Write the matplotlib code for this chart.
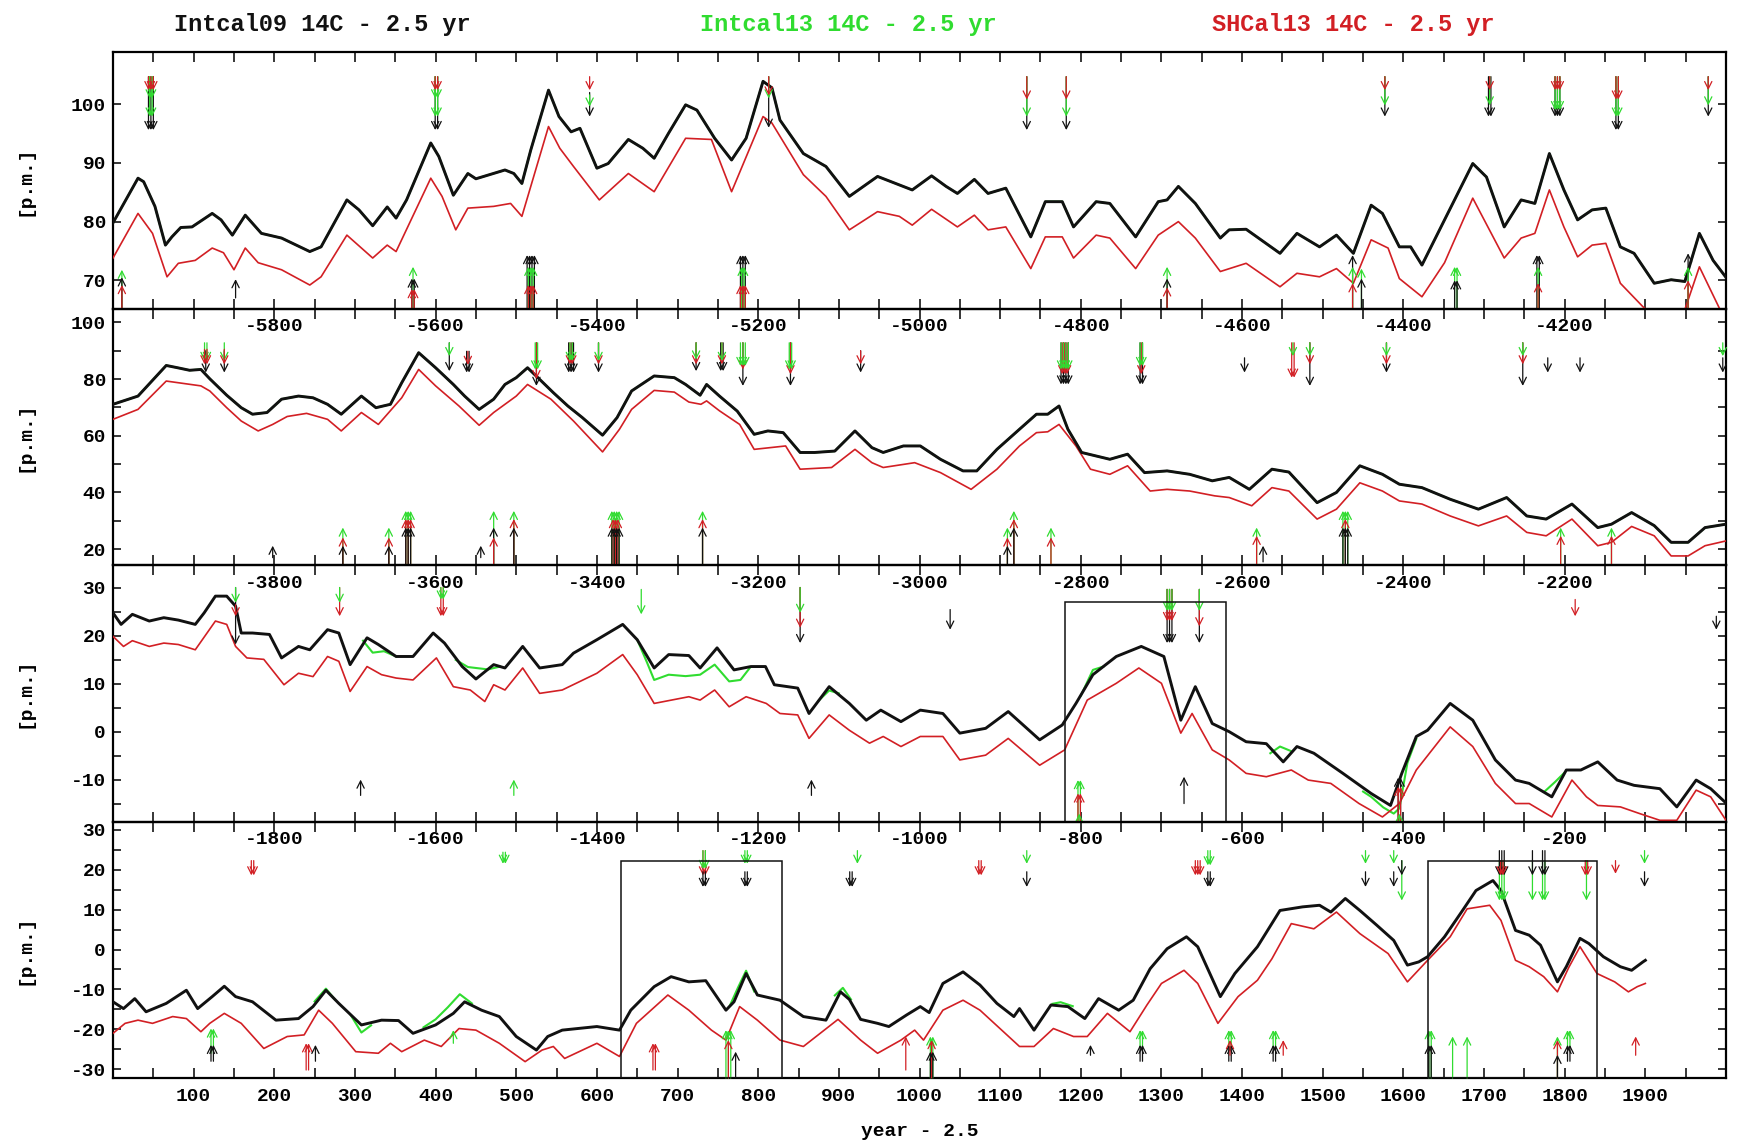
import matplotlib
matplotlib.use("Agg")
import matplotlib.pyplot as plt
from matplotlib.ticker import FixedLocator, MultipleLocator, NullFormatter
from matplotlib.patches import Rectangle

plt.rcParams['font.family'] = ['Liberation Mono', 'DejaVu Sans Mono']
plt.rcParams['font.weight'] = 'bold'
plt.rcParams['axes.unicode_minus'] = False

BLACK = '#111111'
GREEN = '#30dc30'
RED = '#d21f24'
COL = {'k': BLACK, 'g': GREEN, 'r': RED}

# ---------------- panel 1 : -6000 .. -4000 ----------------
yr1_k = [-6000, -5969, -5962, -5948, -5935, -5927, -5916, -5902, -5877, -5866, -5852, -5836, -5816,
         -5791, -5756, -5742, -5710, -5695, -5678, -5660, -5649, -5636, -5606, -5596, -5578, -5560,
         -5550, -5514, -5503, -5493, -5482, -5460, -5447, -5432, -5421, -5400, -5386, -5361, -5343,
         -5329, -5311, -5290, -5276, -5254, -5233, -5215, -5194, -5183, -5173, -5144, -5116, -5087,
         -5052, -5009, -4985, -4967, -4953, -4932, -4915, -4893, -4862, -4844, -4823, -4809, -4781,
         -4764, -4732, -4704, -4693, -4679, -4658, -4627, -4616, -4595, -4553, -4532, -4504, -4483,
         -4462, -4440, -4426, -4405, -4391, -4377, -4349, -4314, -4297, -4275, -4254, -4237, -4219,
         -4201, -4184, -4166, -4149, -4131, -4114, -4089, -4068, -4051, -4033, -4016, -4000]
k1 = [79.8, 87.4, 86.8, 82.6, 76.0, 77.4, 79.0, 79.1, 81.4, 80.3, 77.7, 81.1, 78.0,
      77.2, 74.9, 75.7, 83.7, 82.0, 79.3, 82.5, 80.6, 83.7, 93.4, 91.1, 84.5, 88.2,
      87.3, 88.8, 88.2, 86.5, 92.2, 102.4, 97.9, 95.3, 95.9, 89.1, 89.9, 94.0, 92.5,
      90.8, 95.1, 99.9, 99.0, 94.2, 90.5, 94.2, 103.9, 102.8, 97.3, 91.6, 89.4, 84.3,
      87.7, 85.4, 87.8, 86.0, 84.8, 87.2, 84.8, 85.7, 77.4, 83.4, 83.4, 79.1, 83.4,
      83.1, 77.4, 83.4, 83.7, 86.0, 83.1, 77.2, 78.6, 78.7, 74.6, 78.0, 75.7, 77.7,
      74.6, 82.8, 81.4, 75.7, 75.7, 72.6, 80.3, 89.9, 87.6, 79.1, 83.7, 83.1, 91.6,
      85.4, 80.3, 82.0, 82.3, 75.7, 74.6, 69.5, 70.1, 69.8, 78.0, 73.4, 70.5]
yr1_r = [-6000, -5969, -5951, -5933, -5919, -5898, -5877, -5863, -5850, -5836, -5820, -5791, -5756,
         -5742, -5710, -5678, -5660, -5649, -5606, -5592, -5575, -5560, -5528, -5507, -5493, -5460,
         -5446, -5429, -5397, -5361, -5329, -5290, -5258, -5233, -5194, -5183, -5144, -5116, -5087,
         -5052, -5025, -5009, -4985, -4953, -4932, -4915, -4893, -4862, -4844, -4823, -4809, -4781,
         -4764, -4732, -4704, -4679, -4658, -4627, -4595, -4553, -4532, -4504, -4483, -4462, -4440,
         -4419, -4405, -4377, -4349, -4314, -4275, -4254, -4237, -4219, -4201, -4184, -4166, -4149,
         -4131, -4103, -4082, -4054, -4033, -4001]
r1 = [73.8, 81.4, 78.0, 70.6, 72.9, 73.4, 75.5, 74.7, 71.8, 75.5, 73.0, 71.8, 69.2,
      70.6, 77.7, 73.8, 76.0, 74.9, 87.4, 84.3, 78.6, 82.3, 82.6, 83.1, 80.9, 96.2,
      92.5, 89.4, 83.7, 88.2, 85.1, 94.2, 94.0, 85.1, 97.9, 96.8, 88.0, 84.3, 78.6,
      81.7, 80.9, 79.4, 82.1, 79.1, 81.1, 78.6, 79.1, 72.0, 77.4, 77.4, 73.8, 77.7,
      77.2, 72.0, 77.7, 80.0, 77.2, 71.5, 72.9, 68.9, 71.2, 70.6, 72.0, 69.5, 76.9,
      75.5, 70.3, 67.2, 73.0, 84.0, 73.8, 77.2, 78.0, 85.4, 79.1, 74.0, 76.0, 76.3,
      69.5, 65.5, 63.2, 63.8, 72.3, 63.2]

# event arrows: (year, colour, tail, head, count)
arr1 = [(-5953, 'k', 104.7, 95.6, 3), (-5953, 'g', 104.7, 97.9, 2), (-5953, 'g', 104.7, 101.0, 2),
        (-5953, 'r', 104.7, 102.4, 3),
        (-5599, 'k', 104.7, 95.6, 2), (-5599, 'g', 104.7, 97.9, 2), (-5599, 'g', 104.7, 101.0, 2),
        (-5599, 'r', 104.7, 102.4, 2),
        (-5409, 'k', 102.0, 97.9, 1), (-5409, 'g', 101.6, 99.6, 1), (-5409, 'r', 104.7, 102.4, 1),
        (-5187, 'k', 104.7, 96.0, 1), (-5187, 'g', 104.7, 101.0, 1), (-5187, 'r', 104.7, 101.5, 1),
        (-4867, 'k', 104.7, 95.6, 1), (-4867, 'g', 104.7, 97.9, 1), (-4867, 'r', 104.7, 100.8, 1),
        (-4818, 'k', 104.7, 95.6, 1), (-4818, 'g', 104.7, 97.9, 1), (-4818, 'r', 104.7, 100.8, 1),
        (-4423, 'k', 104.7, 97.9, 1), (-4423, 'g', 104.7, 99.8, 1), (-4423, 'r', 104.7, 102.4, 1),
        (-4293, 'k', 104.7, 97.9, 2), (-4293, 'g', 104.7, 99.8, 1), (-4293, 'r', 104.7, 102.4, 1),
        (-4209, 'k', 104.7, 97.9, 3), (-4209, 'g', 104.7, 99.0, 3), (-4209, 'r', 104.7, 102.4, 3),
        (-4135, 'k', 104.7, 95.6, 2), (-4135, 'g', 104.7, 97.9, 2), (-4135, 'r', 104.7, 100.8, 2),
        (-4022, 'k', 104.7, 97.9, 1), (-4022, 'g', 104.7, 99.8, 1), (-4022, 'r', 104.7, 102.4, 1),
        (-5989, 'k', 65.2, 70.5, 1), (-5989, 'g', 65.2, 71.8, 1), (-5989, 'r', 65.2, 69.2, 1),
        (-5848, 'k', 67.0, 70.2, 1),
        (-5628, 'g', 65.2, 72.3, 1), (-5628, 'k', 65.2, 70.3, 2), (-5628, 'r', 65.2, 68.5, 2),
        (-5482, 'k', 65.2, 74.3, 4), (-5482, 'g', 65.2, 72.3, 3), (-5482, 'r', 65.2, 69.2, 3),
        (-5219, 'k', 65.2, 74.3, 3), (-5219, 'g', 65.2, 72.3, 2), (-5219, 'r', 65.2, 69.2, 3),
        (-4693, 'g', 65.2, 72.3, 1), (-4693, 'k', 65.2, 70.3, 1), (-4693, 'r', 65.2, 68.8, 1),
        (-4463, 'k', 65.2, 74.3, 1), (-4463, 'g', 65.2, 72.3, 1), (-4463, 'r', 65.2, 69.5, 1),
        (-4452, 'k', 65.2, 70.3, 1), (-4452, 'g', 65.2, 72.0, 1),
        (-4335, 'g', 65.2, 72.3, 2), (-4335, 'k', 65.2, 70.0, 2),
        (-4233, 'k', 65.2, 74.3, 2), (-4233, 'g', 65.2, 72.3, 1), (-4233, 'r', 65.2, 69.5, 1),
        (-4047, 'k', 65.2, 74.6, 1), (-4047, 'g', 65.2, 72.3, 1), (-4047, 'r', 65.2, 70.0, 1)]

# ---------------- panel 2 : -4000 .. -2000 ----------------
yr2_k = [-4000, -3969, -3934, -3920, -3905, -3891, -3880, -3859, -3841, -3827, -3809, -3791, -3770,
         -3752, -3734, -3717, -3692, -3674, -3656, -3642, -3621, -3600, -3578, -3564, -3546, -3528,
         -3514, -3500, -3486, -3471, -3454, -3436, -3418, -3393, -3375, -3357, -3329, -3304, -3290,
         -3272, -3264, -3248, -3226, -3205, -3188, -3169, -3148, -3130, -3105, -3080, -3059, -3045,
         -3020, -2999, -2974, -2946, -2929, -2904, -2876, -2855, -2841, -2827, -2816, -2799, -2764,
         -2742, -2721, -2693, -2665, -2637, -2616, -2591, -2563, -2542, -2507, -2483, -2454, -2426,
         -2405, -2377, -2342, -2307, -2272, -2247, -2223, -2191, -2159, -2142, -2117, -2089, -2068,
         -2047, -2026, -2000]
k2 = [71.1, 74.0, 84.8, 84.0, 83.1, 83.4, 80.1, 74.3, 69.9, 67.6, 68.2, 72.9, 74.0,
      73.4, 71.1, 67.6, 74.0, 69.9, 71.1, 78.7, 89.3, 84.0, 78.1, 74.0, 69.3, 72.9,
      78.1, 80.5, 84.0, 79.9, 75.2, 70.5, 66.4, 60.2, 66.4, 75.8, 81.1, 80.5, 78.1,
      74.3, 78.1, 74.0, 68.7, 60.5, 61.7, 61.1, 54.1, 54.1, 54.6, 61.7, 55.8, 54.1,
      56.4, 56.4, 51.7, 47.6, 47.6, 55.2, 62.3, 67.6, 67.6, 70.5, 62.3, 54.1, 51.7,
      53.5, 47.0, 47.6, 46.4, 44.1, 45.3, 41.1, 48.2, 47.2, 36.4, 40.0, 49.4, 46.4,
      42.9, 41.7, 37.6, 34.1, 38.2, 31.7, 30.6, 35.9, 27.6, 28.8, 32.9, 28.3, 22.4,
      22.4, 27.6, 28.8]
yr2_r = [-4000, -3969, -3934, -3891, -3880, -3859, -3841, -3820, -3802, -3784, -3760, -3734, -3717,
         -3692, -3671, -3642, -3621, -3600, -3571, -3546, -3528, -3500, -3486, -3457, -3429, -3393,
         -3372, -3357, -3329, -3304, -3286, -3271, -3264, -3248, -3223, -3205, -3166, -3148, -3109,
         -3080, -3059, -3045, -3006, -2974, -2936, -2904, -2876, -2855, -2841, -2827, -2806, -2788,
         -2764, -2742, -2714, -2693, -2665, -2634, -2616, -2588, -2563, -2542, -2507, -2483, -2454,
         -2426, -2405, -2377, -2342, -2307, -2272, -2247, -2223, -2191, -2159, -2142, -2117, -2089,
         -2068, -2047, -2026, -2000]
r2 = [65.8, 69.3, 79.3, 77.6, 75.8, 69.9, 65.2, 61.7, 64.0, 66.8, 67.9, 65.8, 61.7,
      68.2, 64.0, 73.4, 83.4, 77.6, 70.5, 63.7, 68.2, 74.0, 78.1, 72.9, 65.2, 54.3,
      62.3, 69.3, 76.0, 75.4, 71.9, 71.1, 72.3, 68.8, 64.0, 55.2, 56.4, 48.2, 48.8,
      55.2, 50.5, 48.8, 50.5, 47.0, 41.1, 48.2, 56.4, 61.1, 61.4, 64.0, 56.4, 48.2,
      46.4, 49.4, 40.5, 41.1, 40.5, 38.8, 38.2, 35.3, 41.7, 40.5, 30.6, 34.1, 43.4,
      40.5, 37.0, 35.9, 31.7, 28.2, 31.7, 25.9, 24.7, 30.6, 21.2, 22.4, 28.0, 24.7,
      17.6, 17.6, 21.2, 22.9]

arr2 = [(-3885, 'g', 92.8, 86.4, 2), (-3885, 'r', 90.5, 85.2, 2), (-3885, 'k', 90.0, 82.3, 1),
        (-3862, 'g', 92.8, 86.4, 1), (-3862, 'r', 90.5, 85.2, 1), (-3862, 'k', 90.0, 82.3, 1),
        (-3583, 'g', 92.8, 88.1, 1), (-3583, 'k', 92.8, 82.8, 1),
        (-3560, 'r', 89.8, 85.0, 1), (-3560, 'k', 89.8, 82.3, 2),
        (-3475, 'g', 92.8, 83.4, 2), (-3475, 'r', 92.8, 80.0, 1), (-3475, 'k', 92.8, 77.6, 1),
        (-3432, 'g', 92.8, 86.4, 2), (-3432, 'r', 92.8, 85.2, 2), (-3432, 'k', 92.8, 82.3, 3),
        (-3398, 'g', 92.8, 86.4, 1), (-3398, 'r', 92.8, 85.2, 1), (-3398, 'k', 92.8, 82.3, 1),
        (-3277, 'g', 92.8, 86.9, 1), (-3277, 'r', 92.8, 85.2, 1), (-3277, 'k', 92.8, 82.8, 1),
        (-3245, 'g', 92.8, 86.4, 1), (-3245, 'r', 92.8, 85.2, 1), (-3245, 'k', 92.8, 82.8, 2),
        (-3219, 'g', 92.8, 84.6, 3), (-3219, 'r', 92.8, 83.4, 1), (-3219, 'k', 92.8, 77.6, 1),
        (-3160, 'g', 92.8, 83.4, 2), (-3160, 'r', 92.8, 81.7, 1), (-3160, 'k', 92.8, 77.6, 1),
        (-3073, 'r', 90.0, 85.2, 1), (-3073, 'k', 90.0, 82.3, 1),
        (-2820, 'g', 92.8, 83.4, 4), (-2820, 'r', 92.8, 81.7, 3), (-2820, 'k', 92.8, 78.1, 4),
        (-2725, 'g', 92.8, 84.6, 2), (-2725, 'r', 92.8, 81.7, 1), (-2725, 'k', 92.8, 78.1, 2),
        (-2597, 'k', 87.5, 82.3, 1),
        (-2537, 'g', 92.8, 88.1, 1), (-2537, 'r', 92.8, 80.5, 2),
        (-2516, 'g', 92.8, 88.1, 1), (-2516, 'r', 92.8, 85.2, 1), (-2516, 'k', 92.8, 77.6, 1),
        (-2421, 'g', 92.8, 88.1, 1), (-2421, 'r', 92.8, 85.2, 1), (-2421, 'k', 92.8, 82.3, 1),
        (-2252, 'g', 92.8, 88.1, 1), (-2252, 'r', 92.8, 85.2, 1), (-2252, 'k', 92.8, 77.6, 1),
        (-2221, 'k', 87.5, 82.3, 1), (-2181, 'k', 87.5, 82.3, 1),
        (-2004, 'g', 92.8, 88.1, 1), (-2004, 'k', 87.5, 82.3, 1),
        (-3802, 'k', 17.0, 21.2, 1),
        (-3715, 'g', 14.4, 27.6, 1), (-3715, 'r', 14.4, 24.1, 1), (-3715, 'k', 14.4, 21.2, 1),
        (-3658, 'g', 14.4, 27.6, 1), (-3658, 'r', 14.4, 24.1, 1), (-3658, 'k', 14.4, 21.2, 1),
        (-3634, 'g', 14.4, 33.5, 3), (-3634, 'r', 14.4, 30.6, 3), (-3634, 'k', 14.4, 27.6, 3),
        (-3544, 'k', 17.0, 21.2, 1),
        (-3528, 'g', 14.4, 33.5, 1), (-3528, 'k', 14.4, 27.6, 1), (-3528, 'r', 14.4, 24.1, 1),
        (-3503, 'g', 14.4, 33.5, 1), (-3503, 'r', 14.4, 30.6, 1), (-3503, 'k', 14.4, 27.6, 1),
        (-3377, 'g', 14.4, 33.5, 4), (-3377, 'r', 14.4, 30.6, 3), (-3377, 'k', 14.4, 27.6, 4),
        (-3269, 'g', 14.4, 33.5, 1), (-3269, 'r', 14.4, 30.6, 1), (-3269, 'k', 14.4, 27.6, 1),
        (-2891, 'g', 14.4, 27.6, 1), (-2891, 'r', 14.4, 24.1, 1), (-2891, 'k', 14.4, 21.2, 1),
        (-2883, 'g', 14.4, 33.5, 1), (-2883, 'r', 14.4, 30.6, 1), (-2883, 'k', 14.4, 27.6, 1),
        (-2837, 'g', 14.4, 27.6, 1), (-2837, 'r', 14.4, 24.1, 1),
        (-2582, 'g', 14.4, 27.6, 1), (-2582, 'r', 14.4, 24.7, 1), (-2574, 'k', 15.5, 21.2, 1),
        (-2472, 'g', 14.4, 33.5, 3), (-2472, 'r', 14.4, 30.6, 1), (-2472, 'k', 14.4, 27.6, 3),
        (-2205, 'g', 14.4, 27.6, 1), (-2205, 'r', 14.4, 24.7, 1),
        (-2142, 'g', 14.4, 27.6, 1), (-2142, 'r', 14.4, 24.7, 1)]

# ---------------- panel 3 : -2000 .. 0 ----------------
yr3_k = [-2000, -1990, -1976, -1955, -1937, -1919, -1898, -1887, -1873, -1859, -1848, -1841, -1827,
         -1806, -1791, -1770, -1756, -1734, -1720, -1706, -1685, -1671, -1649, -1628, -1603, -1589,
         -1567, -1550, -1528, -1514, -1492, -1471, -1443, -1429, -1400, -1368, -1350, -1329, -1311,
         -1286, -1272, -1251, -1230, -1209, -1191, -1180, -1151, -1137, -1112, -1087, -1066, -1048,
         -1023, -999, -971, -950, -918, -890, -851, -823, -806, -785, -756, -725, -697, -676, -658,
         -637, -616, -595, -570, -549, -532, -511, -475, -440, -416, -402, -384, -370, -342, -314,
         -286, -261, -244, -216, -198, -180, -159, -135, -114, -82, -61, -37, -19, 0]
k3 = [24.8, 22.4, 24.5, 23.1, 23.8, 23.3, 22.4, 24.8, 28.3, 28.3, 26.2, 20.6, 20.6,
      20.3, 15.4, 17.8, 17.1, 21.3, 20.6, 14.0, 19.6, 18.2, 15.7, 15.7, 20.6, 18.5,
      13.6, 11.0, 14.0, 13.3, 17.8, 13.3, 14.0, 16.4, 19.2, 22.4, 19.2, 13.3, 16.1,
      15.9, 13.3, 17.5, 12.9, 13.6, 13.6, 9.8, 9.1, 3.8, 9.4, 5.9, 2.4, 4.5,
      2.1, 4.5, 3.8, -0.3, 0.7, 4.2, -1.7, 1.4, 5.9, 11.9, 15.7, 17.8, 15.7, 2.4, 9.4,
      1.7, 0.0, -2.1, -2.5, -6.3, -3.1, -4.5, -8.7, -12.9, -15.4, -8.7, -1.0, 0.3, 5.9, 2.4,
      -5.9, -10.1, -10.8, -13.6, -8.0, -8.0, -6.3, -10.1, -11.2, -11.9, -15.7, -10.1, -11.9, -14.9]
yr3_r = [-2000, -1987, -1976, -1955, -1937, -1919, -1898, -1873, -1859, -1848, -1834, -1813, -1788,
         -1770, -1752, -1734, -1720, -1706, -1685, -1667, -1649, -1628, -1599, -1578, -1557, -1539,
         -1528, -1514, -1492, -1471, -1443, -1400, -1368, -1350, -1329, -1286, -1272, -1254, -1236,
         -1215, -1190, -1173, -1151, -1137, -1112, -1087, -1062, -1045, -1023, -999, -971, -950,
         -918, -890, -851, -820, -792, -756, -728, -700, -676, -662, -637, -616, -595, -570, -539,
         -518, -490, -455, -426, -405, -384, -342, -314, -286, -261, -244, -216, -191, -173, -159,
         -131, -107, -82, -61, -37, -19, 0]
r3 = [19.9, 17.8, 19.0, 17.8, 18.5, 18.2, 17.1, 23.1, 22.4, 17.8, 15.4, 15.1, 9.8,
      12.2, 11.5, 15.7, 14.7, 8.4, 13.6, 11.9, 11.2, 10.8, 15.4, 9.4, 8.7, 6.3,
      9.8, 8.7, 13.3, 8.0, 8.7, 12.2, 16.1, 11.9, 5.9, 7.3, 6.6, 8.7, 5.2,
      7.3, 5.9, 3.8, 3.5, -1.4, 3.5, 0.3, -2.4, -1.0, -3.1, -1.0, -1.0, -5.9,
      -4.9, -1.4, -7.0, -3.8, 6.6, 10.1, 13.3, 10.1, -0.3, 3.8, -3.8, -5.9, -8.7, -9.4, -8.0,
      -10.1, -10.8, -15.0, -17.8, -15.0, -8.0, 1.0, -3.1, -10.8, -15.0, -15.0, -17.8, -10.1, -13.6, -15.4,
      -15.7, -17.1, -18.5, -18.5, -12.2, -13.6, -18.5]
# IntCal13 only where it leaves the IntCal09 curve
yr3_g = [[-1690, -1678, -1664, -1649], [-1575, -1560, -1550, -1535, -1520],
         [-1350, -1338, -1329, -1311, -1290, -1272, -1254, -1236, -1222, -1210],
         [-1125, -1112, -1100], [-800, -785, -772], [-565, -553, -540],
         [-450, -440, -425, -412, -405, -395, -384], [-225, -212, -200]]
g3 = [[19.0, 16.5, 16.8, 15.7], [15.0, 13.5, 13.3, 13.0, 13.6],
      [19.2, 14.5, 10.8, 11.9, 11.6, 11.9, 14.0, 10.5, 10.8, 13.4],
      [6.5, 8.6, 8.0], [7.5, 12.9, 13.6], [-4.5, -3.1, -4.0],
      [-12.5, -13.6, -15.8, -17.1, -16.0, -6.5, -1.5], [-12.5, -10.5, -8.5]]

arr3 = [(-1848, 'g', 30.1, 26.9, 1), (-1848, 'r', 26.5, 24.1, 1), (-1848, 'k', 30.1, 18.2, 1),
        (-1719, 'g', 30.1, 26.9, 1), (-1719, 'r', 30.1, 24.1, 1),
        (-1592, 'g', 30.1, 27.6, 2), (-1592, 'r', 30.1, 24.1, 2),
        (-1345, 'g', 29.7, 24.5, 1),
        (-1148, 'g', 30.1, 24.8, 1), (-1148, 'r', 30.1, 21.7, 1), (-1148, 'k', 30.1, 18.5, 1),
        (-962, 'k', 25.5, 21.3, 1),
        (-690, 'g', 29.7, 25.2, 3), (-690, 'r', 29.7, 23.1, 3), (-690, 'k', 29.7, 18.5, 3),
        (-653, 'g', 29.7, 25.2, 1), (-653, 'r', 29.7, 22.0, 1), (-653, 'k', 29.7, 18.5, 1),
        (-187, 'r', 27.6, 24.1, 1), (-12, 'k', 24.1, 21.3, 1),
        (-1693, 'k', -13.3, -10.0, 1), (-1503, 'g', -13.3, -10.0, 1), (-1134, 'k', -13.3, -10.0, 1),
        (-802, 'g', -18.75, -10.1, 2), (-802, 'r', -18.75, -12.9, 2), (-802, 'g', -18.75, -17.1, 1),
        (-672, 'k', -15.0, -9.4, 1),
        (-405, 'k', -18.75, -9.6, 2), (-405, 'r', -18.75, -11.5, 2), (-405, 'g', -18.75, -17.1, 1)]

# ---------------- panel 4 : 0 .. 2000 ----------------
yr4_k = [0, 13, 27, 41, 66, 91, 105, 123, 138, 152, 173, 202, 230, 248, 264, 280, 308, 333, 354,
         372, 400, 422, 436, 457, 479, 500, 525, 539, 557, 600, 628, 642, 671, 692, 714, 735, 760,
         770, 785, 799, 827, 856, 884, 902, 913, 927, 948, 962, 984, 1001, 1012, 1029, 1054, 1075,
         1096, 1117, 1124, 1142, 1163, 1184, 1205, 1222, 1247, 1265, 1286, 1307, 1331, 1345, 1373,
         1391, 1419, 1447, 1475, 1496, 1510, 1528, 1546, 1567, 1588, 1605, 1619, 1630, 1651, 1672,
         1690, 1711, 1721, 1739, 1756, 1770, 1791, 1802, 1819, 1830, 1848, 1869, 1883, 1897, 1900]
k4 = [-13.1, -14.8, -12.3, -15.6, -13.5, -10.2, -14.8, -11.8, -9.2, -11.8, -13.1, -17.7, -17.3, -14.3,
      -10.2, -13.5, -18.9, -17.7, -17.8, -21.0, -18.9, -16.0, -13.1, -15.2, -16.8, -21.8, -25.2, -21.8,
      -20.2, -19.3, -20.2, -15.2, -9.3, -6.8, -8.1, -7.8, -15.2, -13.1, -6.0, -11.4, -12.7, -16.8,
      -17.7, -10.6, -12.5, -17.5, -18.5, -19.3, -16.4, -14.3, -15.8, -8.5, -5.6, -8.9, -13.5, -16.8,
      -14.8, -20.2, -13.9, -14.3, -17.3, -12.3, -15.2, -12.7, -4.8, 0.2, 3.2, 0.7, -11.8, -6.0, 0.7,
      9.8, 10.7, 11.1, 9.4, 12.8, 9.8, 6.1, 2.3, -3.9, -3.1, -1.8, 3.2, 9.4, 14.8, 17.3, 14.8, 4.8,
      3.6, 1.1, -8.1, -4.3, 2.8, 1.5, -1.8, -4.3, -5.2, -3.1, -2.7]
yr4_r = [0, 15, 31, 49, 74, 91, 109, 120, 138, 159, 187, 216, 237, 255, 272, 301, 329, 344, 358,
         386, 407, 429, 450, 479, 511, 532, 546, 560, 600, 628, 649, 688, 714, 742, 760, 777, 799,
         827, 856, 899, 927, 948, 977, 994, 1005, 1029, 1054, 1075, 1124, 1142, 1166, 1191, 1208,
         1233, 1261, 1282, 1300, 1328, 1345, 1370, 1395, 1419, 1437, 1461, 1489, 1517, 1546, 1581,
         1605, 1630, 1658, 1679, 1707, 1721, 1739, 1756, 1774, 1791, 1805, 1819, 1840, 1862, 1879,
         1890, 1900]
r4 = [-21.0, -18.5, -17.7, -18.5, -16.8, -17.3, -20.6, -18.5, -16.0, -18.5, -24.8, -21.8, -21.4,
      -15.2, -18.5, -25.6, -26.0, -23.5, -25.6, -22.7, -24.3, -19.8, -20.2, -23.5, -28.1, -25.2,
      -24.3, -27.3, -23.5, -26.8, -18.5, -11.4, -15.2, -20.2, -22.7, -14.3, -17.7, -22.7, -24.3,
      -17.5, -22.7, -26.0, -22.7, -20.2, -22.7, -15.2, -12.7, -15.2, -24.3, -24.3, -19.8, -21.8,
      -21.8, -16.0, -20.6, -13.9, -8.5, -5.2, -8.5, -18.5, -11.8, -7.7, -2.3, 6.5, 5.2, 9.4, 4.0,
      -1.0, -8.1, -2.7, 3.2, 10.2, 11.1, 7.3, -2.7, -4.3, -6.8, -10.6, -4.5, 0.7, -6.0, -8.1,
      -10.6, -9.3, -8.5]
yr4_g = [[250, 264, 275], [295, 308, 320], [385, 400, 415, 430, 445], [765, 775, 785, 795],
         [895, 905, 915], [1165, 1175, 1190]]
g4 = [[-13.0, -9.8, -12.5], [-16.5, -20.8, -19.0], [-19.5, -17.5, -14.5, -11.2, -13.5],
      [-14.0, -9.5, -5.3, -10.5], [-11.5, -9.6, -12.5], [-13.6, -13.2, -14.2]]

arr4 = [(173, 'r', 22.3, 18.6, 2), (485, 'g', 24.4, 21.5, 2),
        (733, 'g', 24.8, 20.2, 2), (733, 'r', 24.8, 18.6, 2), (733, 'k', 19.5, 15.7, 2),
        (785, 'g', 24.8, 21.5, 2), (785, 'k', 19.5, 15.7, 2),
        (915, 'k', 19.5, 15.7, 2), (923, 'g', 24.8, 21.5, 1),
        (1075, 'r', 22.3, 18.6, 2),
        (1133, 'g', 24.8, 21.5, 1), (1133, 'k', 19.5, 15.7, 1),
        (1345, 'r', 22.3, 18.6, 3), (1359, 'g', 24.8, 21.1, 2), (1359, 'k', 19.5, 15.7, 2),
        (1553, 'g', 24.8, 21.5, 1), (1553, 'k', 19.5, 15.7, 1),
        (1588, 'g', 24.8, 21.5, 1), (1588, 'k', 19.5, 15.7, 1),
        (1598, 'k', 22.3, 18.6, 1), (1598, 'g', 22.3, 12.3, 1),
        (1722, 'r', 22.3, 18.6, 2), (1722, 'k', 24.8, 18.6, 3), (1722, 'g', 22.3, 12.3, 3),
        (1760, 'k', 24.8, 18.6, 1), (1760, 'g', 22.3, 12.3, 1),
        (1774, 'k', 24.8, 18.6, 2), (1774, 'g', 22.3, 12.3, 2),
        (1827, 'r', 22.3, 18.6, 2), (1827, 'g', 22.3, 12.3, 1),
        (1863, 'r', 22.3, 19.0, 1), (1899, 'g', 24.8, 21.5, 1), (1899, 'k', 19.5, 15.7, 1),
        (123, 'g', -26.0, -19.8, 2), (123, 'k', -28.0, -23.9, 2),
        (241, 'r', -30.2, -23.5, 2), (251, 'k', -28.0, -23.9, 1),
        (422, 'g', -23.5, -20.2, 1), (671, 'r', -30.2, -23.5, 2),
        (763, 'g', -32.2, -20.2, 3), (763, 'r', -32.2, -22.7, 1), (772, 'k', -32.2, -25.6, 1),
        (983, 'r', -30.2, -21.8, 1),
        (1015, 'g', -32.2, -21.8, 2), (1015, 'r', -32.2, -22.7, 1), (1015, 'k', -32.2, -25.6, 2),
        (1212, 'k', -26.5, -23.9, 1),
        (1275, 'g', -24.5, -20.2, 2), (1275, 'k', -28.0, -23.9, 2),
        (1385, 'g', -24.5, -20.2, 2), (1385, 'r', -26.5, -22.7, 1), (1385, 'k', -28.0, -23.9, 2),
        (1440, 'g', -24.5, -20.2, 2), (1440, 'k', -28.0, -23.9, 2), (1451, 'r', -26.5, -22.7, 1),
        (1633, 'g', -32.2, -20.2, 2), (1633, 'k', -32.2, -23.9, 2),
        (1661, 'g', -32.2, -21.8, 1), (1679, 'g', -32.2, -21.8, 1),
        (1791, 'g', -32.2, -21.8, 1), (1791, 'r', -32.2, -22.7, 1), (1791, 'k', -32.2, -26.4, 1),
        (1805, 'g', -24.5, -20.2, 2), (1805, 'k', -28.0, -23.9, 2),
        (1888, 'r', -26.5, -21.8, 1)]

# boxes: (x0, x1, top)
box3 = [(-820, -620, 27.0)]
box4 = [(630, 830, 22.2), (1630, 1840, 22.2)]

panels = [
    dict(x0=-6000, ylim=(65.2, 108.9), yt=[70, 80, 90, 100], ymin=[], xl=list(range(-5800, -4199, 200)),
         yk=yr1_k, k=k1, yr=yr1_r, r=r1, yg=[yr1_k], g=[k1], arr=arr1, box=[]),
    dict(x0=-4000, ylim=(14.4, 104.9), yt=[20, 40, 60, 80, 100], ymin=[30, 50, 70, 90],
         xl=list(range(-3800, -2199, 200)),
         yk=yr2_k, k=k2, yr=yr2_r, r=r2, yg=[yr2_k], g=[k2], arr=arr2, box=[]),
    dict(x0=-2000, ylim=(-18.75, 34.8), yt=[-10, 0, 10, 20, 30], ymin=[-15, -5, 5, 15, 25],
         xl=list(range(-1800, -199, 200)),
         yk=yr3_k, k=k3, yr=yr3_r, r=r3, yg=yr3_g, g=g3, arr=arr3, box=box3),
    dict(x0=0, ylim=(-32.2, 32.1), yt=[-30, -20, -10, 0, 10, 20, 30], ymin=[-25, -15, -5, 5, 15, 25],
         xl=list(range(100, 1901, 100)),
         yk=yr4_k, k=k4, yr=yr4_r, r=r4, yg=yr4_g, g=g4, arr=arr4, box=box4),
]

W, H = 1739, 1146
fig = plt.figure(figsize=(W / 100, H / 100), dpi=100, facecolor='white')
left, right = 113, 1726
top0, ph = 52, 256.5

for i, p in enumerate(panels):
    ax = fig.add_axes([left / W, 1 - (top0 + (i + 1) * ph) / H, (right - left) / W, ph / H])
    ax.patch.set_visible(False)
    ax.set_xlim(p['x0'], p['x0'] + 2000)
    ax.set_ylim(*p['ylim'])

    # curves
    for xs, ys in zip(p['yg'], p['g']):
        ax.plot(xs, ys, color=GREEN, lw=1.5, zorder=2)
    ax.plot(p['yr'], p['r'], color=RED, lw=1.2, zorder=3)
    ax.plot(p['yk'], p['k'], color=BLACK, lw=2.1, zorder=4)

    # event arrows, longest first so short ones stay visible
    for (x, c, t, h, n) in sorted(p['arr'], key=lambda a: -abs(a[3] - a[2])):
        for j in range(n):
            xx = x + 3.0 * j - 1.5 * (n - 1)
            ax.annotate('', xy=(xx, h), xytext=(xx, t),
                        arrowprops=dict(arrowstyle='->', color=COL[c], lw=0.9,
                                        shrinkA=0, shrinkB=0, mutation_scale=13),
                        zorder=5, annotation_clip=False)

    for (a, b, ytop) in p['box']:
        ax.add_patch(Rectangle((a, p['ylim'][0]), b - a, ytop - p['ylim'][0],
                               fill=False, ec=BLACK, lw=1.1, zorder=6))

    # ticks
    ax.xaxis.set_major_locator(FixedLocator(p['xl']))
    ax.xaxis.set_minor_locator(MultipleLocator(50))
    ax.xaxis.set_minor_formatter(NullFormatter())
    ax.set_xticklabels([str(v) for v in p['xl']])
    ax.yaxis.set_major_locator(FixedLocator(p['yt']))
    ax.yaxis.set_minor_locator(FixedLocator(p['ymin']))
    ax.set_yticklabels([str(v) for v in p['yt']])
    ax.tick_params(axis='x', which='both', direction='in', top=True, bottom=True,
                   length=7, width=1.1, pad=7, labelsize=14)
    ax.tick_params(axis='y', which='both', direction='in', left=True, right=True,
                   length=6, width=1.1, pad=5, labelsize=14)
    for s in ax.spines.values():
        s.set_linewidth(1.6)

    fig.text(25 / W, 1 - (top0 + (i + 0.5) * ph) / H, '[p.m.]', rotation=90,
             ha='center', va='center', fontsize=14)

fig.text(322 / W, 1 - 25 / H, 'Intcal09 14C - 2.5 yr', color=BLACK, ha='center', va='center', fontsize=17)
fig.text(848 / W, 1 - 25 / H, 'Intcal13 14C - 2.5 yr', color=GREEN, ha='center', va='center', fontsize=17)
fig.text(1353 / W, 1 - 25 / H, 'SHCal13 14C - 2.5 yr', color=RED, ha='center', va='center', fontsize=17)
fig.text(920 / W, 1 - 1131 / H, 'year - 2.5', ha='center', va='center', fontsize=14)

fig.savefig('out.png', dpi=100, facecolor='white')
